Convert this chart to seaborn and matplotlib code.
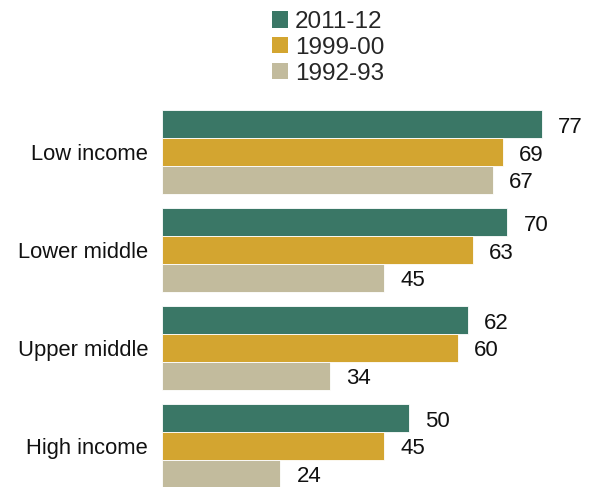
import matplotlib
matplotlib.use("Agg")
import matplotlib.pyplot as plt
import seaborn as sns
import pandas as pd
from matplotlib.patches import Patch

categories = ["Low income", "Lower middle", "Upper middle", "High income"]
series = ["2011-12", "1999-00", "1992-93"]
v_2011 = [77, 70, 62, 50]
v_1999 = [69, 63, 60, 45]
v_1992 = [67, 45, 34, 24]
colors = ["#3A7766", "#D3A530", "#C2BB9D"]

rows = []
for s, vals in zip(series, [v_2011, v_1999, v_1992]):
    for c, v in zip(categories, vals):
        rows.append({"cat": c, "series": s, "value": v})
df = pd.DataFrame(rows)

sns.set_style("white")
plt.rcParams["font.family"] = ["Liberation Sans", "DejaVu Sans"]

fig = plt.figure(figsize=(5.92, 4.87), dpi=100)
ax = fig.add_axes([162 / 592, 0, 1 - 162 / 592, 1 - 110 / 487])
sns.barplot(data=df, y="cat", x="value", hue="series", order=categories,
            hue_order=series, palette=colors, saturation=1, orient="h", width=0.857,
            edgecolor="white", linewidth=0.6, ax=ax, legend=False, errorbar=None)

ax.set_xlim(0, 430 / 4.935)
ax.set_ylim(3.4286 - 1 / 98, -0.4286)
for cont in ax.containers:
    for p, v in zip(cont.patches, cont.datavalues):
        ax.annotate(f"{int(v)}", xy=(p.get_width(), p.get_y() + p.get_height() / 2),
                    xytext=(16, -3), textcoords="offset pixels", ha="left", va="center",
                    fontsize=16, color="#111111")
ax.set_xlabel("")
ax.set_ylabel("")
ax.set_xticks([])
ax.tick_params(axis="y", length=0, pad=10, labelsize=15.8, labelcolor="#111111")
for sp in ax.spines.values():
    sp.set_visible(False)

handles = [Patch(facecolor=col, edgecolor="none") for col in colors]
fig.legend(handles, series, loc="upper left", bbox_to_anchor=(272 / 592, 1 - 11 / 487),
           frameon=False, fontsize=17.5, handlelength=0.65, handleheight=0.65,
           handletextpad=0.3, labelspacing=0.16, borderpad=0, borderaxespad=0)

fig.savefig("out.png", dpi=100)
